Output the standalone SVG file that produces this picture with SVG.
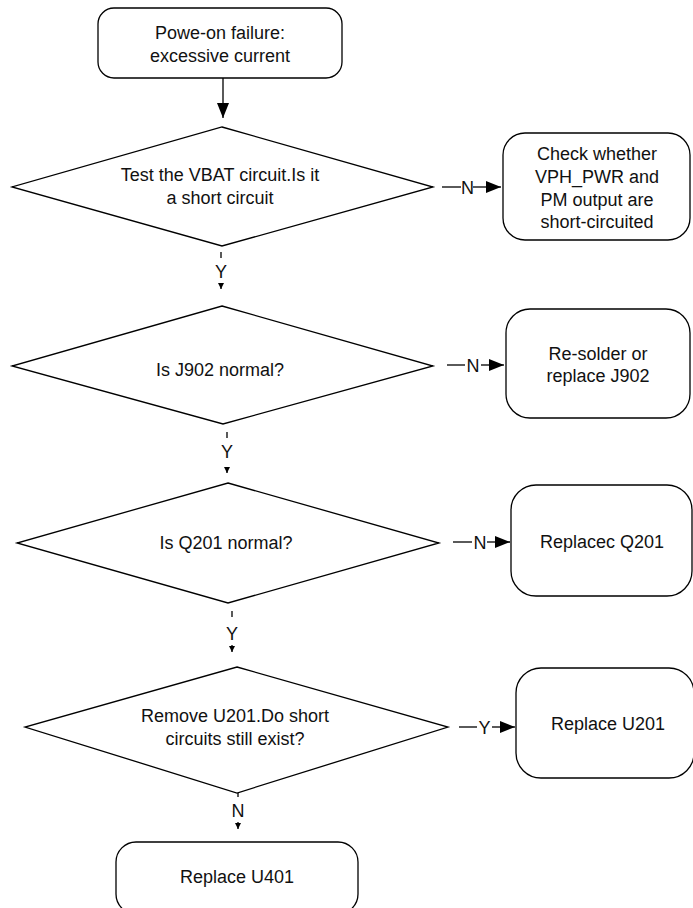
<svg xmlns="http://www.w3.org/2000/svg" width="693" height="908" viewBox="0 0 693 908">
  <style>
    .shape { fill: #ffffff; stroke: #000000; stroke-width: 1.3; }
    .line { fill: none; stroke: #000000; stroke-width: 1.3; }
    text { font-family: "Liberation Sans", Arial, sans-serif; font-size: 18px; fill: #111111; text-anchor: middle; }
  </style>
  <defs>
    <marker id="arrow" viewBox="0 0 15 12" refX="15" refY="6" markerWidth="15" markerHeight="12" markerUnits="userSpaceOnUse" orient="auto">
      <path d="M0,0 L15,6 L0,12 z" fill="#000000"/>
    </marker>
    <marker id="tip" viewBox="0 0 6 6" refX="6" refY="3" markerWidth="6" markerHeight="6" markerUnits="userSpaceOnUse" orient="auto">
      <path d="M0,0 L6,3 L0,6 z" fill="#000000"/>
    </marker>
  </defs>

  <rect width="693" height="908" fill="#ffffff"/>

  <!-- connectors -->
  <g id="connectors">
    <!-- start to first test -->
    <line class="line" x1="223" y1="78" x2="223" y2="118" marker-end="url(#arrow)"/>

    <!-- VBAT test: Y down, N right -->
    <line class="line" x1="221" y1="252" x2="221" y2="258"/>
    <text x="221" y="278">Y</text>
    <line class="line" x1="221" y1="283" x2="221" y2="289" marker-end="url(#tip)"/>
    <line class="line" x1="442" y1="187" x2="461" y2="187"/>
    <text x="467.5" y="193.5">N</text>
    <line class="line" x1="473" y1="187" x2="501" y2="187" marker-end="url(#arrow)"/>

    <!-- J902 test -->
    <line class="line" x1="227" y1="432" x2="227" y2="438"/>
    <text x="227" y="458">Y</text>
    <line class="line" x1="227" y1="467" x2="227" y2="473" marker-end="url(#tip)"/>
    <line class="line" x1="447" y1="365" x2="465" y2="365"/>
    <text x="473" y="371.5">N</text>
    <line class="line" x1="481" y1="365" x2="504" y2="365" marker-end="url(#arrow)"/>

    <!-- Q201 test -->
    <line class="line" x1="232" y1="611" x2="232" y2="617"/>
    <text x="232" y="640">Y</text>
    <line class="line" x1="232" y1="645" x2="232" y2="652" marker-end="url(#tip)"/>
    <line class="line" x1="453" y1="542" x2="472" y2="542"/>
    <text x="480" y="548.5">N</text>
    <line class="line" x1="487" y1="542" x2="510" y2="542" marker-end="url(#arrow)"/>

    <!-- U201 test -->
    <line class="line" x1="238" y1="791" x2="238" y2="797"/>
    <text x="238" y="817">N</text>
    <line class="line" x1="238" y1="822" x2="238" y2="829" marker-end="url(#tip)"/>
    <line class="line" x1="459" y1="727" x2="477" y2="727"/>
    <text x="484.5" y="733.5">Y</text>
    <line class="line" x1="492" y1="727" x2="515" y2="727" marker-end="url(#arrow)"/>
  </g>

  <!-- start -->
  <g id="start">
    <rect class="shape" x="98" y="8" width="244" height="70" rx="16" ry="16"/>
    <text x="220" y="39">Powe-on failure:</text>
    <text x="220" y="62">excessive current</text>
  </g>

  <!-- decisions -->
  <g id="test-vbat">
    <polygon class="shape" points="222,127 433,187 222,246 12,187"/>
    <text x="220" y="181">Test the VBAT circuit.Is it</text>
    <text x="220" y="204">a short circuit</text>
  </g>

  <g id="check-j902">
    <polygon class="shape" points="222,306 433,366 223,424 12,366"/>
    <text x="220" y="376">Is J902 normal?</text>
  </g>

  <g id="check-q201">
    <polygon class="shape" points="228,483 439,543 228,603 17,543"/>
    <text x="226" y="549">Is Q201 normal?</text>
  </g>

  <g id="remove-u201">
    <polygon class="shape" points="237,667 448,727 237,793 25,727"/>
    <text x="235" y="722">Remove U201.Do short</text>
    <text x="235" y="745">circuits still exist?</text>
  </g>

  <!-- actions -->
  <g id="check-vph">
    <rect class="shape" x="503" y="133" width="187" height="107" rx="22" ry="22"/>
    <text x="597" y="160">Check whether</text>
    <text x="597" y="183">VPH_PWR and</text>
    <text x="597" y="205.5">PM output are</text>
    <text x="597" y="228">short-circuited</text>
  </g>

  <g id="fix-j902">
    <rect class="shape" x="506" y="309" width="184" height="109" rx="24" ry="24"/>
    <text x="598" y="360">Re-solder or</text>
    <text x="598" y="382">replace J902</text>
  </g>

  <g id="fix-q201">
    <rect class="shape" x="511" y="485" width="181" height="111" rx="25" ry="25"/>
    <text x="602" y="548">Replacec Q201</text>
  </g>

  <g id="fix-u201">
    <rect class="shape" x="516" y="668" width="178" height="110" rx="25" ry="25"/>
    <text x="608" y="730">Replace U201</text>
  </g>

  <g id="fix-u401">
    <rect class="shape" x="116" y="842" width="242" height="72" rx="20" ry="20"/>
    <text x="237" y="883">Replace U401</text>
  </g>
</svg>
